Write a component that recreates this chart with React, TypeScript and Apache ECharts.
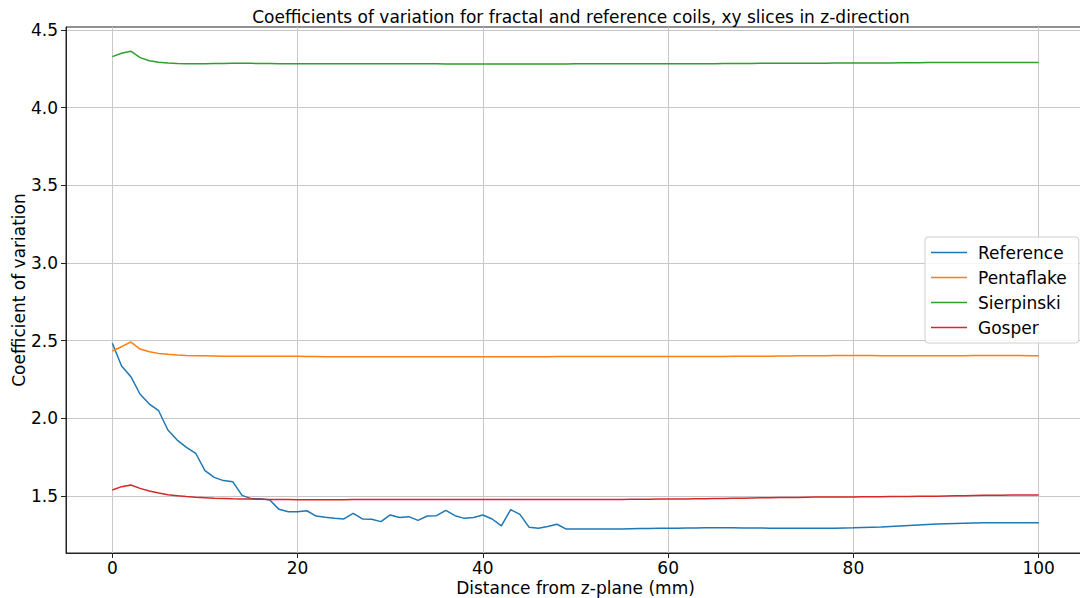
import React, { useEffect, useRef } from "react";
import * as echarts from "echarts";

const distances: number[] = Array.from({ length: 101 }, (_, i) => i);

const reference: number[] = [
  2.483, 2.337, 2.268, 2.155, 2.092, 2.049, 1.925, 1.860, 1.813, 1.775,
  1.663, 1.620, 1.599, 1.592, 1.504, 1.483, 1.483, 1.474, 1.414, 1.399,
  1.399, 1.405, 1.371, 1.363, 1.356, 1.352, 1.388, 1.352, 1.350, 1.335,
  1.378, 1.361, 1.367, 1.343, 1.371, 1.373, 1.408, 1.373, 1.356, 1.361,
  1.378, 1.352, 1.307, 1.412, 1.382, 1.298, 1.292, 1.303, 1.318, 1.287,
  1.287, 1.287, 1.287, 1.287, 1.288, 1.288, 1.289, 1.290, 1.291, 1.292,
  1.292, 1.293, 1.294, 1.294, 1.295, 1.295, 1.295, 1.295, 1.294, 1.294,
  1.294, 1.293, 1.293, 1.292, 1.292, 1.292, 1.292, 1.292, 1.293, 1.294,
  1.295, 1.297, 1.299, 1.301, 1.304, 1.307, 1.310, 1.313, 1.316, 1.319,
  1.321, 1.323, 1.325, 1.326, 1.327, 1.328, 1.328, 1.328, 1.328, 1.328,
  1.328,
];

const pentaflake: number[] = [
  2.433, 2.461, 2.491, 2.446, 2.429, 2.418, 2.412, 2.408, 2.405, 2.403,
  2.402, 2.401, 2.400, 2.400, 2.399, 2.399, 2.399, 2.399, 2.399, 2.399,
  2.399, 2.398, 2.398, 2.397, 2.397, 2.397, 2.397, 2.397, 2.397, 2.397,
  2.397, 2.397, 2.397, 2.397, 2.397, 2.397, 2.397, 2.397, 2.397, 2.397,
  2.397, 2.397, 2.397, 2.397, 2.397, 2.397, 2.397, 2.397, 2.398, 2.398,
  2.398, 2.398, 2.398, 2.398, 2.398, 2.398, 2.398, 2.398, 2.398, 2.398,
  2.398, 2.398, 2.398, 2.398, 2.398, 2.398, 2.398, 2.399, 2.399, 2.399,
  2.400, 2.400, 2.401, 2.401, 2.402, 2.402, 2.403, 2.403, 2.404, 2.404,
  2.404, 2.404, 2.404, 2.403, 2.403, 2.403, 2.403, 2.403, 2.403, 2.403,
  2.403, 2.403, 2.403, 2.404, 2.404, 2.404, 2.404, 2.404, 2.404, 2.403,
  2.403,
];

const sierpinski: number[] = [
  4.328, 4.350, 4.363, 4.322, 4.302, 4.292, 4.287, 4.284, 4.283, 4.283,
  4.283, 4.284, 4.284, 4.285, 4.285, 4.285, 4.284, 4.284, 4.283, 4.283,
  4.283, 4.283, 4.283, 4.283, 4.283, 4.283, 4.282, 4.282, 4.282, 4.282,
  4.282, 4.282, 4.282, 4.282, 4.282, 4.282, 4.281, 4.281, 4.281, 4.281,
  4.281, 4.281, 4.281, 4.281, 4.281, 4.281, 4.281, 4.281, 4.281, 4.281,
  4.282, 4.282, 4.282, 4.282, 4.282, 4.282, 4.282, 4.282, 4.283, 4.283,
  4.283, 4.283, 4.283, 4.283, 4.283, 4.283, 4.284, 4.284, 4.284, 4.284,
  4.285, 4.285, 4.285, 4.285, 4.286, 4.286, 4.286, 4.286, 4.287, 4.287,
  4.287, 4.287, 4.288, 4.288, 4.288, 4.289, 4.289, 4.289, 4.290, 4.290,
  4.290, 4.290, 4.291, 4.291, 4.291, 4.291, 4.291, 4.291, 4.291, 4.291,
  4.291,
];

const gosper: number[] = [
  1.539, 1.560, 1.571, 1.549, 1.532, 1.519, 1.508, 1.502, 1.496, 1.492,
  1.489, 1.486, 1.484, 1.482, 1.481, 1.480, 1.479, 1.478, 1.477, 1.477,
  1.476, 1.476, 1.476, 1.476, 1.476, 1.476, 1.477, 1.477, 1.477, 1.477,
  1.477, 1.477, 1.477, 1.477, 1.477, 1.477, 1.477, 1.478, 1.478, 1.478,
  1.478, 1.478, 1.478, 1.478, 1.478, 1.478, 1.478, 1.478, 1.478, 1.478,
  1.478, 1.478, 1.478, 1.478, 1.478, 1.478, 1.479, 1.479, 1.479, 1.480,
  1.480, 1.481, 1.481, 1.482, 1.483, 1.484, 1.484, 1.485, 1.486, 1.487,
  1.488, 1.489, 1.490, 1.491, 1.491, 1.492, 1.493, 1.493, 1.494, 1.494,
  1.494, 1.495, 1.495, 1.495, 1.496, 1.496, 1.497, 1.498, 1.498, 1.499,
  1.500, 1.501, 1.502, 1.503, 1.504, 1.505, 1.505, 1.506, 1.506, 1.507,
  1.507,
];

const seriesNames: string[] = ["Reference", "Pentaflake", "Sierpinski", "Gosper"];
const seriesColors: string[] = ["#1f77b4", "#ff7f0e", "#2ca02c", "#d62728"];
const xTicks: number[] = [0, 20, 40, 60, 80, 100];
const yTicks: number[] = [1.5, 2.0, 2.5, 3.0, 3.5, 4.0, 4.5];

const FONT = "DejaVu Sans";

export default function App() {
  const ref = useRef<HTMLDivElement>(null);
  useEffect(() => {
    if (!ref.current) return;
    const chart = echarts.init(ref.current, null, { renderer: "svg" });
    const all = [reference, pentaflake, sierpinski, gosper];
    const option: any = {
      animation: false,
      backgroundColor: "#ffffff",
      textStyle: { fontFamily: FONT },
      title: {
        text: "Coefficients of variation for fractal and reference coils, xy slices in z-direction",
        left: 576,
        top: 3,
        textAlign: "center",
        textStyle: { fontFamily: FONT, fontSize: 17, fontWeight: "normal", color: "#000" },
      },
      grid: {
        left: 66,
        top: 27,
        width: 1019,
        height: 526,
        show: true,
        borderColor: "#222",
        borderWidth: 1,
        containLabel: false,
        outerBoundsMode: "none",
      },
      legend: {
        orient: "vertical",
        left: 925,
        top: 237,
        data: seriesNames,
        icon: "rect",
        itemWidth: 36,
        itemHeight: 1.5,
        itemGap: 8,
        backgroundColor: "rgba(255,255,255,0.85)",
        borderColor: "#d0d0d0",
        borderWidth: 1,
        borderRadius: 3,
        padding: [7, 12, 7, 6],
        textStyle: { fontFamily: FONT, fontSize: 17, color: "#000", padding: [0, 0, 0, 6] },
      },
      xAxis: {
        type: "value",
        min: -5,
        max: 105,
        name: "Distance from z-plane (mm)",
        nameLocation: "middle",
        nameGap: 26,
        nameMoveOverlap: false,
        nameTextStyle: { fontFamily: FONT, fontSize: 17, color: "#000" },
        axisLine: { show: true, onZero: false, lineStyle: { color: "#222", width: 1 } },
        axisTick: { show: true, length: 5, lineStyle: { color: "#222" }, customValues: xTicks },
        axisLabel: { fontFamily: FONT, fontSize: 17, color: "#000", margin: 6, customValues: xTicks },
        splitLine: { show: true, lineStyle: { color: "#c8c8c8", width: 1 } },
      },
      yAxis: {
        type: "value",
        min: 1.133,
        max: 4.519,
        name: "Coefficient of variation",
        nameLocation: "middle",
        nameGap: 39,
        nameMoveOverlap: false,
        nameTextStyle: { fontFamily: FONT, fontSize: 17, color: "#000" },
        axisLine: { show: true, onZero: false, lineStyle: { color: "#222", width: 1 } },
        axisTick: { show: true, length: 5, lineStyle: { color: "#222" }, customValues: yTicks },
        axisLabel: {
          fontFamily: FONT,
          fontSize: 17,
          color: "#000",
          margin: 8,
          customValues: yTicks,
          formatter: (v: number) => v.toFixed(1),
        },
        splitLine: { show: true, lineStyle: { color: "#c8c8c8", width: 1 } },
      },
      series: seriesNames.map((name, k) => ({
        name,
        type: "line",
        data: distances.map((d, i) => [d, all[k][i]]),
        showSymbol: false,
        symbol: "none",
        lineStyle: { color: seriesColors[k], width: 1.5 },
        itemStyle: { color: seriesColors[k] },
      })),
    };
    chart.setOption(option);
    return () => chart.dispose();
  }, []);
  return (
    <div
      ref={ref}
      style={{ position: "fixed", left: 0, top: 0, width: 1080, height: 598, background: "#fff" }}
    />
  );
}
